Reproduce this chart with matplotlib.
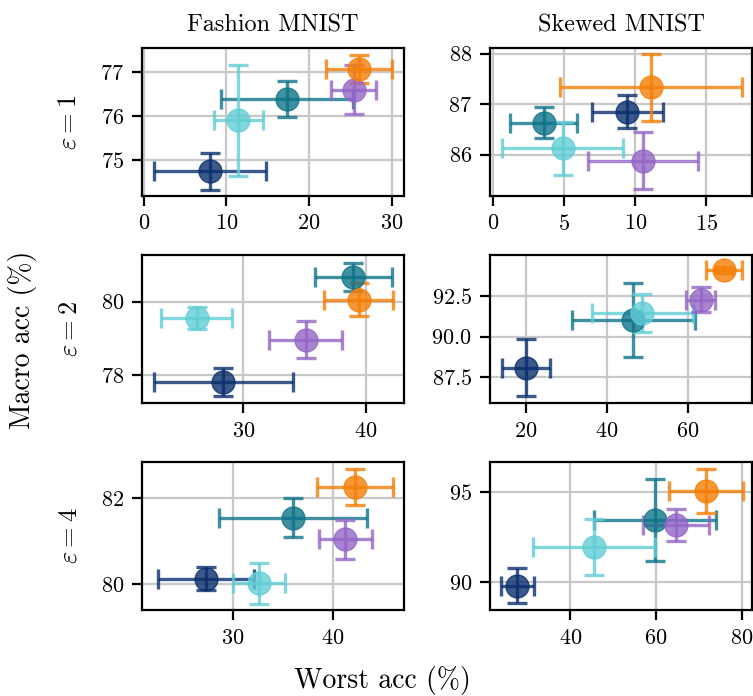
import matplotlib
matplotlib.use("Agg")
import matplotlib.pyplot as plt

plt.rcParams.update({
    'font.family': 'cmr10',
    'mathtext.fontset': 'cm',
    'axes.formatter.use_mathtext': True,
    'font.size': 14,
})

# order of points: navy, teal, cyan, purple, orange
colors = ['#0b2f6e', '#0f7489', '#62cdd6', '#9465c6', '#f57e06']

# Fashion MNIST, eps = 1
fm1_x = [8.0, 17.35, 11.45, 25.4, 26.1]
fm1_xerr = [6.8, 8.0, 3.0, 2.7, 4.0]
fm1_y = [74.75, 76.38, 75.9, 76.6, 77.06]
fm1_yerr = [0.42, 0.41, 1.25, 0.55, 0.32]

# Skewed MNIST, eps = 1
sk1_x = [9.45, 3.56, 4.9, 10.55, 11.1]
sk1_xerr = [2.5, 2.35, 4.25, 3.85, 6.4]
sk1_y = [86.85, 86.63, 86.12, 85.88, 87.33]
sk1_yerr = [0.33, 0.31, 0.52, 0.56, 0.67]

# Fashion MNIST, eps = 2
fm2_x = [28.38, 38.98, 26.22, 35.08, 39.4]
fm2_xerr = [5.65, 3.15, 2.9, 3.0, 2.8]
fm2_y = [77.82, 80.67, 79.55, 78.97, 80.05]
fm2_yerr = [0.38, 0.38, 0.3, 0.49, 0.44]

# Skewed MNIST, eps = 2
sk2_x = [20.0, 46.56, 48.7, 63.14, 68.9]
sk2_xerr = [6.0, 15.25, 12.45, 3.6, 4.45]
sk2_y = [88.08, 91.06, 91.47, 92.3, 94.15]
sk2_yerr = [1.78, 2.3, 1.18, 0.77, 0.2]

# Fashion MNIST, eps = 4
fm4_x = [27.35, 36.03, 32.65, 41.23, 42.23]
fm4_xerr = [4.8, 7.4, 2.6, 2.65, 3.8]
fm4_y = [80.12, 81.55, 80.02, 81.04, 82.27]
fm4_yerr = [0.27, 0.45, 0.48, 0.45, 0.42]

# Skewed MNIST, eps = 4
sk4_x = [27.66, 59.84, 45.62, 64.75, 71.6]
sk4_xerr = [3.83, 14.2, 14.25, 7.7, 8.6]
sk4_y = [89.83, 93.44, 91.97, 93.17, 95.06]
sk4_yerr = [0.99, 2.27, 1.55, 0.9, 1.23]

col_titles = ['Fashion MNIST', 'Skewed MNIST']
row_labels = [r'$\varepsilon = 1$', r'$\varepsilon = 2$', r'$\varepsilon = 4$']

panels = [
    [(fm1_x, fm1_y, fm1_xerr, fm1_yerr), (sk1_x, sk1_y, sk1_xerr, sk1_yerr)],
    [(fm2_x, fm2_y, fm2_xerr, fm2_yerr), (sk2_x, sk2_y, sk2_xerr, sk2_yerr)],
    [(fm4_x, fm4_y, fm4_xerr, fm4_yerr), (sk4_x, sk4_y, sk4_xerr, sk4_yerr)],
]

xticks = [[[0, 10, 20, 30], [0, 5, 10, 15]],
          [[30, 40], [20, 40, 60]],
          [[30, 40], [40, 60, 80]]]
yticks = [[[75, 76, 77], [86, 87, 88]],
          [[78, 80], [87.5, 90.0, 92.5]],
          [[80, 82], [90, 95]]]
xlims = [[(-0.2, 31.5), (-0.2, 18.2)],
         [(21.76, 43.1), (11.16, 75.8)],
         [(20.95, 47.1), (21.27, 82.4)]]
ylims = [[(74.19, 77.54), (85.18, 88.11)],
         [(77.25, 81.26), (85.88, 95.07)],
         [(79.39, 82.85), (88.48, 96.65)]]

fig, axes = plt.subplots(3, 2, figsize=(7.53, 6.96), dpi=100)
fig.subplots_adjust(left=0.1886, right=0.9987, top=0.931, bottom=0.1236,
                    wspace=0.328, hspace=0.4)

for r in range(3):
    for c in range(2):
        ax = axes[r][c]
        xs, ys, xe, ye = panels[r][c]
        for i in range(len(xs)):
            ax.errorbar(xs[i], ys[i], xerr=xe[i], yerr=ye[i], fmt='o',
                        color=colors[i], alpha=0.8, markersize=16.5,
                        elinewidth=2.4, capsize=7, capthick=2.4, zorder=3)
        ax.set_xticks(xticks[r][c])
        ax.set_yticks(yticks[r][c])
        ax.set_xlim(xlims[r][c])
        ax.set_ylim(ylims[r][c])
        ax.grid(True, color='#c8c8c8', linewidth=1.6, zorder=0)
        ax.set_axisbelow(True)
        for s in ax.spines.values():
            s.set_linewidth(1.6)
        ax.tick_params(length=7, width=1.6, labelsize=16, pad=6)
        if r == 0:
            ax.set_title(col_titles[c], fontsize=17.5, pad=12)
        if c == 0:
            ax.set_ylabel(row_labels[r], fontsize=19, labelpad=14)

fig.text(0.508, 0.022, 'Worst acc (%)', ha='center', va='center', fontsize=20)
fig.text(0.030, 0.512, 'Macro acc (%)', ha='center', va='center',
         rotation=90, fontsize=20)

fig.savefig('out.png', dpi=100)
